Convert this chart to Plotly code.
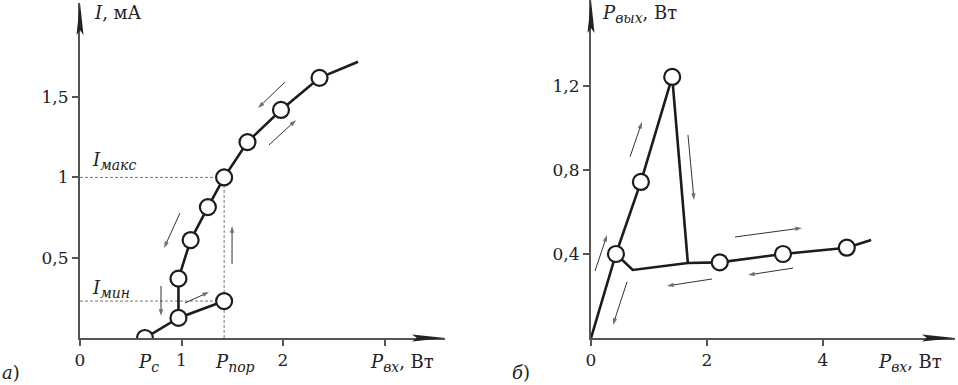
import plotly.graph_objects as go

# ---------------- data: panel a) ----------------
P_c = 0.64          # W
P_por = 1.42        # W
I_max = 1.0         # mA
I_min = 0.23        # mA

a_low_x = [0.64, 0.97, 1.42]
a_low_y = [0.0, 0.125, 0.23]
a_jump_x = [0.97, 0.97]
a_jump_y = [0.125, 0.37]
a_up_x = [0.97, 1.09, 1.26, 1.42, 1.65, 1.98, 2.36, 2.74]
a_up_y = [0.37, 0.61, 0.815, 1.0, 1.22, 1.42, 1.62, 1.72]
a_pts_x = [0.64, 0.97, 1.42, 0.97, 1.09, 1.26, 1.42, 1.65, 1.98, 2.36]
a_pts_y = [0.0, 0.125, 0.23, 0.37, 0.61, 0.815, 1.0, 1.22, 1.42, 1.62]
a_xticks = [0, 1, 2]
a_xticktext = ["0", "1", "2"]
a_xminor = [3]
a_yticks = [0.5, 1.0, 1.5]
a_yticktext = ["0,5", "1", "1,5"]
# direction arrows (tail x, tail y, head x, head y)
a_arrows = [
    (2.02, 1.594, 1.754, 1.432),
    (1.862, 1.202, 2.128, 1.357),
    (0.985, 0.778, 0.828, 0.560),
    (1.498, 0.461, 1.498, 0.697),
    (0.798, 0.324, 0.798, 0.137),
    (1.034, 0.218, 1.271, 0.286),
]

# ---------------- data: panel б) ----------------
b_rise_x = [0.0, 0.43, 0.86, 1.40]
b_rise_y = [0.0, 0.40, 0.743, 1.243]
b_drop_x = [1.40, 1.67]
b_drop_y = [1.243, 0.357]
b_low_x = [0.43, 0.72, 1.67, 2.22, 3.31, 4.41, 4.83]
b_low_y = [0.40, 0.324, 0.357, 0.36, 0.40, 0.43, 0.467]
b_pts_x = [0.43, 0.86, 1.40, 2.22, 3.31, 4.41]
b_pts_y = [0.40, 0.743, 1.243, 0.36, 0.40, 0.43]
b_xticks = [0, 2, 4]
b_xticktext = ["0", "2", "4"]
b_yticks = [0.4, 0.8, 1.2]
b_yticktext = ["0,4", "0,8", "1,2"]
b_arrows = [
    (0.069, 0.319, 0.276, 0.490),
    (0.672, 0.862, 0.879, 1.029),
    (1.672, 0.967, 1.776, 0.657),
    (2.483, 0.481, 3.638, 0.524),
    (3.483, 0.333, 2.707, 0.300),
    (2.086, 0.281, 1.310, 0.248),
    (0.621, 0.267, 0.379, 0.062),
]

W, H = 958, 385
FONT = "DejaVu Serif"
LINE = "#1c1c1c"
AXC = "#555555"


def X(px):
    return px / W


def Y(py):
    return 1 - py / H


def sub(s):
    return f"<sub><i><span style='font-size:14px'>{s}</span></i></sub>"


fig = go.Figure()


def curve(x, y, xa, ya):
    fig.add_trace(go.Scatter(x=x, y=y, mode="lines", xaxis=xa, yaxis=ya,
                             line=dict(color=LINE, width=2.6), hoverinfo="skip"))


def circles(x, y, xa, ya):
    fig.add_trace(go.Scatter(x=x, y=y, mode="markers", xaxis=xa, yaxis=ya,
                             marker=dict(size=16, color="white",
                                         line=dict(color=LINE, width=2.2)),
                             hoverinfo="skip"))


def dashed(x, y, xa, ya):
    fig.add_trace(go.Scatter(x=x, y=y, mode="lines", xaxis=xa, yaxis=ya,
                             line=dict(color="#777777", width=1, dash="3px,2px"),
                             hoverinfo="skip"))


def direction(arrows, xa, ya):
    for (tx, ty, hx, hy) in arrows:
        fig.add_trace(go.Scatter(
            x=[tx, hx], y=[ty, hy], mode="lines+markers", xaxis=xa, yaxis=ya,
            line=dict(color="#333333", width=1),
            marker=dict(symbol="arrow", size=[0, 7], angleref="previous",
                        color="#333333", line=dict(width=0)),
            hoverinfo="skip"))


# panel a
dashed([0, P_por], [I_max, I_max], "x", "y")
dashed([P_por, P_por], [0, I_max], "x", "y")
dashed([0, P_por], [I_min, I_min], "x", "y")
direction(a_arrows, "x", "y")
curve(a_low_x, a_low_y, "x", "y")
curve(a_jump_x, a_jump_y, "x", "y")
curve(a_up_x, a_up_y, "x", "y")
circles(a_pts_x, a_pts_y, "x", "y")

# panel b
direction(b_arrows, "x2", "y2")
curve(b_rise_x, b_rise_y, "x2", "y2")
curve(b_drop_x, b_drop_y, "x2", "y2")
curve(b_low_x, b_low_y, "x2", "y2")
circles(b_pts_x, b_pts_y, "x2", "y2")

annotations = []


def label(text, px, py, xanchor="left", size=18):
    annotations.append(dict(text=text, x=X(px), y=Y(py), xref="paper", yref="paper",
                            xanchor=xanchor, yanchor="middle", showarrow=False,
                            font=dict(family=FONT, size=size, color="#222222")))


label("<i>I</i>, мА", 92, 12)
label("<i>I</i>" + sub("макс"), 90, 161)
label("<i>I</i>" + sub("мин"), 90, 289)
label("<i>P</i>" + sub("c"), 148, 363, "center")
label("<i>P</i>" + sub("пор"), 235, 363, "center")
label("<i>P</i>" + sub("вх") + ", Вт", 368, 363)
label("<i>а</i>)", 0, 372)
label("<i>P</i>" + sub("вых") + ", Вт", 600, 14)
label("<i>P</i>" + sub("вх") + ", Вт", 876, 363)
label("<i>б</i>)", 510, 372)

# axis arrowheads (in axis-domain coordinates)
shapes = []


def arrow_x(xd, yd, length_px, half_px, dom_w_px, dom_h_px):
    L = length_px / dom_w_px
    h = half_px / dom_h_px
    return dict(type="path", xref=xd, yref=yd,
                path=f"M 1 0 L {1-L} {h} L {1-L*0.85} 0 L {1-L} {-h} Z",
                fillcolor="#222222", line=dict(width=0))


def arrow_y(xd, yd, length_px, half_px, dom_w_px, dom_h_px):
    L = length_px / dom_h_px
    h = half_px / dom_w_px
    return dict(type="path", xref=xd, yref=yd,
                path=f"M 0 1 L {h} {1-L} L 0 {1-L*0.85} L {-h} {1-L} Z",
                fillcolor="#222222", line=dict(width=0))


shapes.append(arrow_x("x domain", "y domain", 33, 3.5, 445 - 80, 338 - 3))
shapes.append(arrow_y("x domain", "y domain", 32, 3.5, 445 - 80, 338 - 3))
shapes.append(arrow_x("x2 domain", "y2 domain", 33, 3.5, 955 - 591, 338 - 0))
shapes.append(arrow_y("x2 domain", "y2 domain", 33, 3.5, 955 - 591, 338 - 0))

tickfont = dict(family=FONT, size=17, color="#222222")
axis_common = dict(showgrid=False, zeroline=False, showline=True, linecolor=AXC,
                   linewidth=2, ticks="outside", ticklen=6, tickwidth=1.5,
                   tickcolor=AXC, tickfont=tickfont, automargin=False,
                   fixedrange=True)

fig.update_layout(
    width=W, height=H,
    margin=dict(l=0, r=0, t=0, b=0),
    paper_bgcolor="white", plot_bgcolor="white",
    showlegend=False,
    font=dict(family=FONT),
    xaxis=dict(domain=[X(80), X(445)], range=[0, 365 / 101.5], anchor="y",
               tickmode="array", tickvals=a_xticks, ticktext=a_xticktext,
               minor=dict(tickmode="array", tickvals=a_xminor, ticks="outside",
                          ticklen=6, tickwidth=1.5, tickcolor=AXC, showgrid=False),
               **axis_common),
    yaxis=dict(domain=[Y(338), Y(3)], range=[0, 335 / 160.6], anchor="x",
               tickmode="array", tickvals=a_yticks, ticktext=a_yticktext,
               **axis_common),
    xaxis2=dict(domain=[X(591), X(955)], range=[0, 364 / 58.0], anchor="y2",
                tickmode="array", tickvals=b_xticks, ticktext=b_xticktext,
                **axis_common),
    yaxis2=dict(domain=[Y(338), Y(0)], range=[0, 338 / 210.0], anchor="x2",
                tickmode="array", tickvals=b_yticks, ticktext=b_yticktext,
                **axis_common),
    annotations=annotations,
    shapes=shapes,
)

fig.write_html("out.html", config={"displayModeBar": False},
               post_script="document.body.style.margin='0px';")
